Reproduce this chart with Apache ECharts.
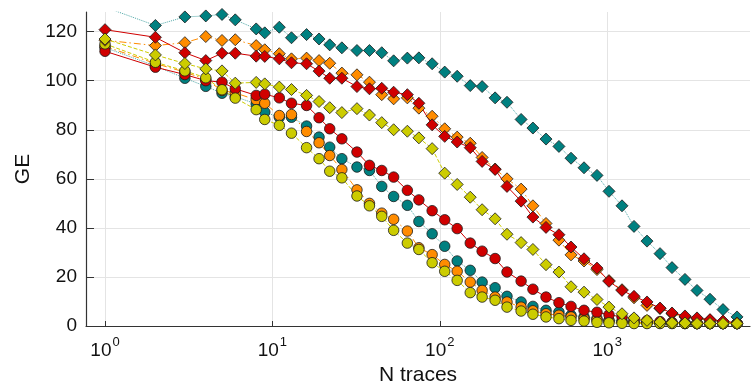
<!DOCTYPE html>
<html lang="en">
<head>
  <meta charset="UTF-8">
  <title>GE vs N traces</title>
  <style>
    body{
      margin: 0;
    }
    .chart{
      width: 752px;
      height: 382px;
      background: white;
    }
  </style>
</head>
<body>
<div class="chart"></div>
<script src="https://cdn.jsdelivr.net/npm/echarts@6/dist/echarts.min.js"></script>
<script>
  // number of traces (x), shared by every series
  const nTraces = [1,2,3,4,5,6,8,9,11,13,16,19,22,26,32,38,45,53,64,75,90,107,127,152,179,214,252,306,360,431,515,608,727,869,1025,1226,1446,1729,2068,2439,2915,3440,4113,4918,5964];

  // circles
  const tealCircle = [113.5,106,101,97.7,94.9,93.5,90.5,87.2,85.1,85.1,81.5,77,72.9,68.2,64.8,63.4,56.9,52.8,49.2,42.6,37.6,32.5,26.5,22.7,17.9,15.6,12.1,9.8,8,6.4,5.7,4.4,3.7,3,2.3,2,1.7,1.5,1.3,1.2,1.1,1,1,1,1];
  const orangeCircle = [114,107,103.5,100.5,96,95,92.2,90.8,85.8,86.2,79.3,74.7,69.5,63.8,55.5,50,46,43.5,38.7,31.9,29.1,25.1,22.3,17.9,14.5,11.8,9.8,7.7,6.2,5,4.4,3.7,3,2.5,2,1.7,1.5,1.3,1.2,1.1,1,1,1,1,1];
  const redCircle = [112,105.5,102.5,100,99.4,96.7,94,94.5,93,90.8,89.9,84.9,80.4,76.3,70.9,65.5,63.4,60.7,55.3,51.4,47,43.3,39.7,33.8,30.5,27.5,22,18.3,15,11.8,9.5,8,6.4,5.6,4.6,3.7,2.8,2.2,1.8,1.5,1.3,1.2,1.1,1,1];
  const yellowCircle = [115,107.5,104,101.2,96.3,92.9,88.2,84.2,81.8,78.6,72.7,68.2,63.1,60.4,53,49,44.7,39,33.8,31.2,25.8,22.3,18.6,13.6,11.8,10.5,7.7,6.1,4.8,3.7,3,2.3,2,1.5,1.3,1.1,1,1,1,1,1,1,1,1,1];

  // diamonds
  const tealDiamond = [130,122.5,126,126.4,127,124.8,121.1,119.5,121.8,117.5,118.8,117,114.6,113.4,112.3,112.3,111.4,108.1,109.2,109.3,106.9,103.5,101.8,98,97.6,93,91.2,84.2,80.7,76.2,73.2,68.4,64.5,61.4,54.9,49,40.6,34.6,29.5,23.8,19,14.5,10.9,6.7,3.7];
  const orangeDiamond = [116.5,114.3,115.5,118,116.4,116.7,114.3,112.6,111,108.9,109.2,108.2,107.1,103.1,102.4,99.4,94.3,92.6,93,88.8,85.5,80.4,77,74.5,68.7,64,60,55.8,49,41.8,35,29,26.5,23,18.5,14.8,11.5,8.4,7.1,5,3.7,3,2.4,1.8,1.2];
  const redDiamond = [120.8,117.7,111.4,108.2,111.2,111.2,110,109.9,108.9,107.3,106.9,103.9,101,101,97.6,96.7,96.9,95.3,94.3,90.8,82,77.3,75,72.7,67.1,63.8,56.9,50.9,44.4,40.2,37.2,32.2,27.4,23.6,18.2,14.5,12.1,9.8,7.3,5.3,4.1,3.3,2.6,2,1.2];
  const yellowDiamond = [117,110.5,107,104.8,104,99,99.3,98.7,97.4,96.4,94,91.5,89,87,88.6,86,82.9,80,79.4,76.7,72.3,62.3,57.7,52.5,47.4,43.7,37.4,34,31.2,25,22,16,13.8,10.8,7.7,5,3.3,2.3,1.6,1.3,1.2,1,1,1,1];

  const xTicks = [1, 10, 100, 1000];
  const yTicks = [0, 20, 40, 60, 80, 100, 120];

  const teal = '#008080';
  const orange = '#ff8c00';
  const red = '#d00000';
  const yellow = '#cccc00';
  const dashDot = [7, 3, 1.5, 3];

  function makeSeries(ys, color, symbol, dash, lineColor){
    return {
      type: 'line',
      data: nTraces.map((x, i) => [x, ys[i]]),
      symbol: symbol,
      symbolSize: symbol === 'diamond' ? 12 : 10.5,
      showAllSymbol: true,
      lineStyle: { color: lineColor || color, width: 1, type: dash },
      itemStyle: { color: color, borderColor: '#1a1a1a', borderWidth: 0.8 },
      emphasis: { disabled: true },
      animation: false
    };
  }

  const container = document.querySelector('.chart');
  const instance = echarts.init(container);
  const option = {
    backgroundColor: '#fff',
    textStyle: { fontFamily: 'Liberation Sans' },
    grid: { left: 86, right: 2, top: 12, bottom: 56, outerBoundsMode: 'none' },
    xAxis: {
      type: 'log',
      logBase: 10,
      min: 0.77,
      max: 7130,
      name: 'N traces',
      nameLocation: 'middle',
      nameGap: 32,
      nameTextStyle: { fontSize: 21, color: '#111' },
      axisLine: { lineStyle: { color: '#333', width: 1.2 } },
      axisTick: { inside: true, length: 5, customValues: xTicks, lineStyle: { color: '#333' } },
      axisLabel: {
        customValues: xTicks,
        margin: 10,
        formatter: function(v){
          return '{b|10}{e|' + Math.round(Math.log10(v)) + '}';
        },
        rich: {
          b: { fontSize: 19, color: '#111', fontFamily: 'Liberation Sans' },
          e: { fontSize: 13, color: '#111', fontFamily: 'Liberation Sans', padding: [0, 0, 16, 1] }
        }
      },
      splitLine: { show: true, lineStyle: { color: '#e4e4e4' } },
      minorTick: { show: false }
    },
    yAxis: {
      type: 'value',
      min: 0,
      max: 128,
      interval: 20,
      name: 'GE',
      nameLocation: 'middle',
      nameGap: 52,
      nameTextStyle: { fontSize: 21, color: '#111' },
      axisLine: { show: true, lineStyle: { color: '#333', width: 1.2 } },
      axisTick: { show: true, inside: true, length: 8, customValues: yTicks, lineStyle: { color: '#333' } },
      axisLabel: { customValues: yTicks, fontSize: 19, color: '#111', margin: 9 },
      splitLine: { show: true, lineStyle: { color: '#e4e4e4' } }
    },
    series: [
      makeSeries(tealCircle, teal, 'circle', 'dotted', '#4da6a6'),
      makeSeries(orangeCircle, orange, 'circle', dashDot),
      makeSeries(redCircle, red, 'circle', 'solid'),
      makeSeries(yellowCircle, yellow, 'circle', 'dashed'),
      makeSeries(tealDiamond, teal, 'diamond', 'dotted', '#4da6a6'),
      makeSeries(orangeDiamond, orange, 'diamond', dashDot),
      makeSeries(redDiamond, red, 'diamond', 'solid'),
      makeSeries(yellowDiamond, yellow, 'diamond', 'dashed')
    ]
  };
  instance.setOption(option);
</script>
</body>
</html>
